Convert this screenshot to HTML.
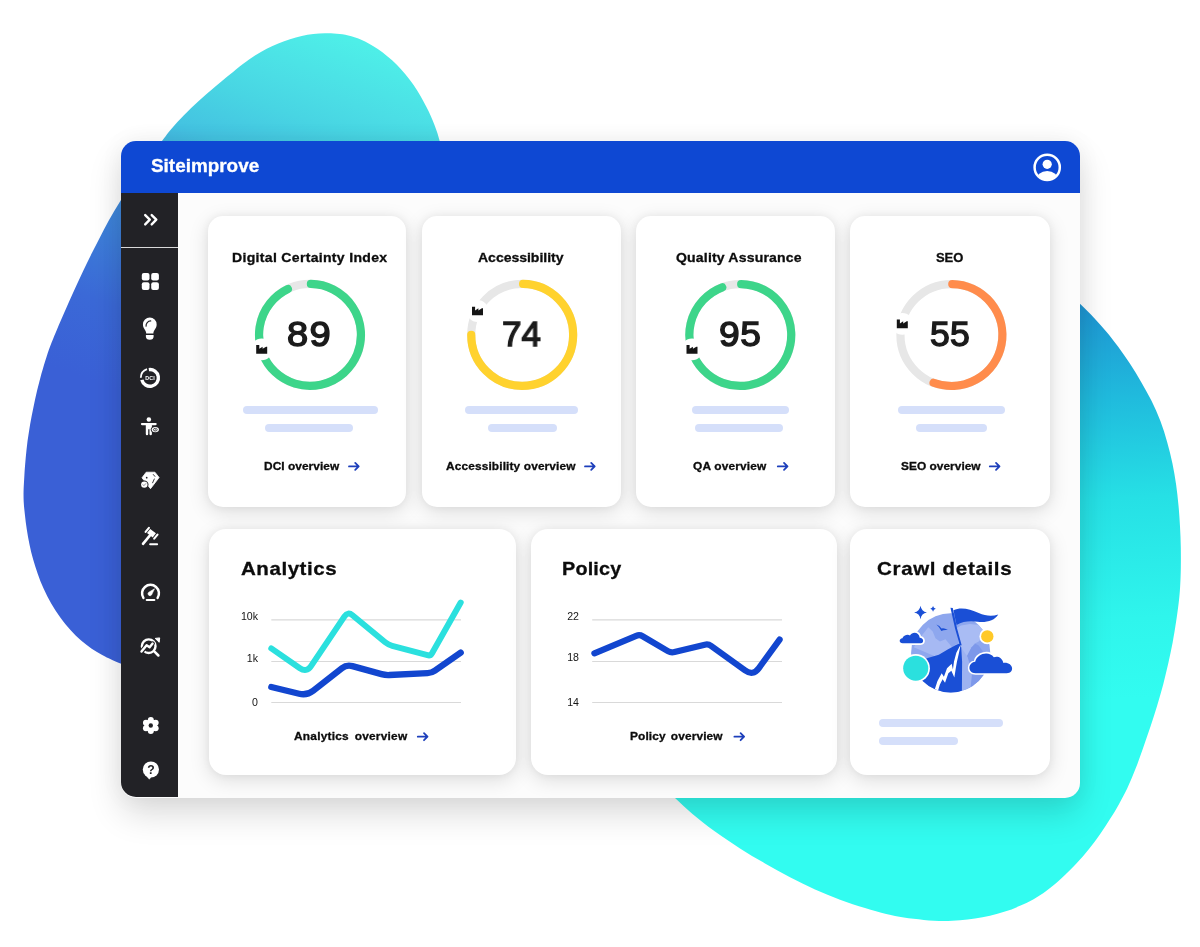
<!DOCTYPE html>
<html>
<head>
<meta charset="utf-8">
<title>Siteimprove dashboard</title>
<style>
html,body{margin:0;padding:0;}
body{width:1200px;height:947px;position:relative;overflow:hidden;background:#ffffff;font-family:"Liberation Sans",sans-serif;color:#111;}
#blobs{position:absolute;left:0;top:0;width:1200px;height:947px;}
#win{position:absolute;left:121px;top:140.5px;width:959px;height:657px;border-radius:15px;background:#fcfcfc;box-shadow:0 16px 34px rgba(0,0,0,0.14),0 0 24px rgba(0,0,0,0.05);}
#hdr{position:absolute;left:121px;top:140.5px;width:959px;height:52.8px;border-radius:15px 15px 0 0;background:#0e48d3;}
#side{position:absolute;left:121px;top:193.2px;width:56.5px;height:604.3px;border-radius:0 0 0 15px;background:#222226;}
#sep{position:absolute;left:121px;top:246.6px;width:56.5px;height:1.5px;background:#d9d9d9;}
.card{position:absolute;background:#fff;border-radius:15px;box-shadow:0 5px 20px rgba(0,0,0,0.13),0 0 8px rgba(0,0,0,0.05);}
.tx{position:absolute;will-change:transform;font-weight:bold;color:#0c0c0c;white-space:nowrap;-webkit-text-stroke:0.3px #0c0c0c;}
.w{-webkit-text-stroke:0.3px #fff;}
.nm{color:#1b1b1b;font-weight:normal;-webkit-text-stroke:1.4px #1b1b1b;}
.bar{position:absolute;height:8px;border-radius:4px;background:#d5dffa;}
.ax{position:absolute;will-change:transform;font-size:10.6px;color:#151515;white-space:nowrap;line-height:13px;text-align:right;width:40px;}
#ov{position:absolute;left:0;top:0;width:1200px;height:947px;}
</style>
</head>
<body>
<svg id="blobs" viewBox="0 0 1200 947">
  <defs>
    <linearGradient id="gL" gradientUnits="userSpaceOnUse" x1="340" y1="35" x2="200" y2="420">
      <stop offset="0" stop-color="#4eefe8"/>
      <stop offset="0.15" stop-color="#4bdde5"/>
      <stop offset="0.22" stop-color="#48d5e3"/>
      <stop offset="0.34" stop-color="#44c3e1"/>
      <stop offset="0.58" stop-color="#3e87da"/>
      <stop offset="0.81" stop-color="#3b69d7"/>
      <stop offset="1" stop-color="#3a60d6"/>
    </linearGradient>
    <linearGradient id="gR" gradientUnits="userSpaceOnUse" x1="1090" y1="300" x2="1115" y2="700">
      <stop offset="0" stop-color="#1e93d2"/>
      <stop offset="0.25" stop-color="#20bbdd"/>
      <stop offset="0.5" stop-color="#26e0e5"/>
      <stop offset="0.8" stop-color="#2ff5ec"/>
      <stop offset="1" stop-color="#32fcf0"/>
    </linearGradient>
  </defs>
  <path id="blobL" fill="url(#gL)" d="M446.0,165.0 C445.0,161.3 442.1,149.5 440.2,142.8 C438.4,136.2 437.0,131.3 434.6,125.2 C432.3,119.2 429.8,113.4 426.3,106.7 C422.8,99.9 418.6,92.0 413.6,85.0 C408.7,78.0 402.7,70.6 396.8,64.7 C390.8,58.7 383.7,53.3 377.8,49.1 C371.9,44.9 366.2,42.0 361.2,39.7 C356.3,37.5 352.4,36.5 348.3,35.5 C344.2,34.5 340.6,34.1 336.7,33.8 C332.8,33.4 328.9,33.3 325.0,33.3 C321.1,33.4 317.2,33.7 313.3,34.1 C309.4,34.6 305.6,35.2 301.7,36.0 C297.8,36.9 293.9,37.9 290.0,39.2 C286.1,40.4 282.2,41.8 278.3,43.4 C274.4,45.0 270.6,46.8 266.7,48.8 C262.8,50.8 259.0,52.9 255.0,55.5 C251.0,58.0 247.2,60.8 242.9,64.0 C238.6,67.3 234.0,71.1 229.2,75.1 C224.4,79.1 219.0,83.5 213.9,87.8 C208.8,92.2 203.7,96.5 198.7,101.0 C193.7,105.6 188.5,110.6 183.9,115.3 C179.3,120.0 175.4,124.2 171.3,129.1 C167.2,134.0 164.3,138.1 159.4,144.7 C154.5,151.2 148.0,160.2 142.1,168.7 C136.1,177.2 128.9,187.6 123.8,195.5 C118.7,203.4 115.0,209.8 111.4,216.1 C107.7,222.5 105.0,227.7 101.8,233.8 C98.6,239.8 95.5,246.0 92.3,252.3 C89.1,258.6 86.0,265.1 82.8,271.8 C79.6,278.4 76.4,285.4 73.3,292.2 C70.2,299.0 66.9,306.5 64.2,312.7 C61.5,318.8 59.1,324.4 57.0,329.4 C54.9,334.3 53.5,337.7 51.7,342.3 C49.9,346.9 48.2,351.6 46.5,356.9 C44.8,362.1 43.0,368.2 41.4,373.8 C39.9,379.4 38.5,385.0 37.1,390.6 C35.8,396.2 34.5,401.9 33.4,407.5 C32.2,413.1 31.1,418.8 30.1,424.4 C29.2,430.0 28.3,435.7 27.5,441.3 C26.8,446.9 26.2,452.5 25.7,458.1 C25.2,463.7 24.7,469.7 24.4,475.0 C24.1,480.3 23.8,485.3 23.6,489.7 C23.5,494.1 23.5,497.5 23.7,501.7 C23.9,505.9 24.4,510.1 24.9,514.8 C25.4,519.5 26.0,524.7 26.8,529.6 C27.6,534.5 28.4,539.5 29.5,544.4 C30.5,549.3 31.7,554.3 33.1,559.2 C34.5,564.1 36.0,569.0 37.8,573.9 C39.5,578.8 41.4,583.8 43.7,588.7 C45.9,593.6 48.5,598.7 51.2,603.5 C54.0,608.3 57.2,613.2 60.5,617.7 C63.7,622.1 67.2,626.4 70.7,630.2 C74.1,634.0 77.6,637.4 81.1,640.5 C84.6,643.6 88.2,646.3 91.7,648.7 C95.2,651.1 98.8,653.2 102.2,655.0 C105.7,656.9 107.8,658.0 112.2,659.9 C116.7,661.8 120.8,663.5 128.8,666.5 C136.8,669.5 154.8,676.1 160.0,678.0 L300,500 Z"/>
  <path id="blobR" fill="url(#gR)" d="M1070.0,294.0 C1071.8,295.8 1077.1,300.7 1081.0,304.7 C1085.0,308.6 1089.7,313.2 1093.9,317.7 C1098.2,322.2 1102.4,326.9 1106.4,331.7 C1110.4,336.5 1114.1,341.2 1118.0,346.5 C1121.9,351.7 1125.8,357.4 1129.7,363.3 C1133.5,369.2 1137.4,375.4 1141.0,381.7 C1144.6,388.0 1148.2,394.3 1151.5,400.8 C1154.7,407.4 1157.8,414.2 1160.4,421.1 C1163.0,428.0 1165.3,435.2 1167.2,442.2 C1169.2,449.2 1170.9,456.3 1172.4,463.3 C1173.8,470.3 1175.1,477.4 1176.1,484.4 C1177.1,491.4 1177.8,498.5 1178.5,505.5 C1179.2,512.5 1179.6,519.6 1180.0,526.6 C1180.4,533.6 1180.7,540.7 1180.8,547.7 C1180.9,554.7 1180.9,562.2 1180.8,568.8 C1180.7,575.4 1180.5,581.5 1180.1,587.1 C1179.8,592.8 1179.4,597.1 1178.7,602.8 C1178.0,608.4 1177.2,614.5 1176.2,621.1 C1175.2,627.7 1174.0,635.2 1172.7,642.2 C1171.3,649.2 1169.9,656.3 1168.3,663.3 C1166.7,670.3 1165.0,677.4 1163.2,684.4 C1161.3,691.4 1159.3,698.5 1157.2,705.5 C1155.1,712.5 1152.8,719.6 1150.5,726.6 C1148.1,733.6 1145.7,740.7 1143.2,747.8 C1140.8,754.8 1138.2,762.1 1135.5,768.8 C1132.9,775.6 1130.1,782.3 1127.3,788.2 C1124.5,794.1 1121.7,799.2 1118.8,804.4 C1116.0,809.6 1113.1,814.2 1110.0,819.1 C1106.9,824.0 1103.7,829.0 1100.2,833.9 C1096.7,838.8 1093.1,843.8 1089.2,848.7 C1085.2,853.6 1081.0,858.6 1076.4,863.5 C1071.8,868.4 1066.4,873.7 1061.5,878.3 C1056.5,882.9 1051.1,887.3 1046.5,890.8 C1041.9,894.3 1038.0,896.7 1033.6,899.2 C1029.2,901.7 1024.8,903.7 1020.0,905.8 C1015.2,907.9 1010.0,910.0 1005.0,911.6 C1000.0,913.3 995.0,914.7 990.0,915.8 C985.0,917.0 980.0,917.8 975.0,918.6 C970.0,919.3 965.2,919.9 960.0,920.2 C954.8,920.6 949.8,920.9 943.8,920.9 C937.7,920.8 930.4,920.5 923.8,919.9 C917.1,919.4 910.0,918.6 903.8,917.6 C897.5,916.6 892.7,915.6 886.2,914.1 C879.8,912.5 872.7,910.5 865.0,908.1 C857.3,905.7 848.3,902.8 840.0,899.7 C831.7,896.6 823.3,893.1 815.0,889.4 C806.7,885.6 798.3,881.5 790.0,877.2 C781.7,872.9 773.3,868.2 765.0,863.4 C756.7,858.6 748.3,853.8 740.0,848.4 C731.7,843.1 722.9,837.3 715.0,831.6 C707.1,825.8 699.2,819.5 692.5,813.9 C685.8,808.3 680.4,803.0 675.0,797.9 C669.6,792.7 662.5,785.5 660.0,783.0 L900,500 Z"/>
</svg>

<div id="win"></div>
<div id="hdr"></div>
<div id="side"></div>
<div id="sep"></div>

<!-- cards row 1 -->
<div class="card" style="left:207.5px;top:216.3px;width:198.7px;height:291px;"></div>
<div class="card" style="left:422px;top:216.3px;width:199px;height:291px;"></div>
<div class="card" style="left:635.5px;top:216.3px;width:199.3px;height:291px;"></div>
<div class="card" style="left:850px;top:216.3px;width:199.8px;height:291px;"></div>
<!-- cards row 2 -->
<div class="card" style="left:209.4px;top:529.2px;width:306.6px;height:245.4px;border-radius:17px;"></div>
<div class="card" style="left:530.8px;top:529.2px;width:306.2px;height:245.4px;border-radius:17px;"></div>
<div class="card" style="left:850px;top:529.2px;width:200.3px;height:245.4px;border-radius:17px;"></div>

<div class="bar" style="left:243.2px;top:405.8px;width:134.5px;"></div><div class="bar" style="left:265.2px;top:423.8px;width:88.1px;"></div><div class="bar" style="left:464.8px;top:405.8px;width:112.9px;"></div><div class="bar" style="left:487.9px;top:423.8px;width:68.9px;"></div><div class="bar" style="left:691.6px;top:405.8px;width:97.2px;"></div><div class="bar" style="left:695.3px;top:423.8px;width:88.0px;"></div><div class="bar" style="left:898.4px;top:405.8px;width:106.4px;"></div><div class="bar" style="left:916px;top:423.8px;width:70.8px;"></div><div class="bar" style="left:879px;top:718.7px;width:124.0px;"></div><div class="bar" style="left:879px;top:736.6px;width:79.3px;"></div>
<div class="tx w" style="left:151.30px;top:154.81px;font-size:18px;line-height:22.5px;letter-spacing:0.0px;transform:scaleX(1.05);transform-origin:0 0;color:#fff;">Siteimprove</div><div class="tx" style="left:232.00px;top:249.97px;font-size:13px;line-height:16.25px;letter-spacing:0.29px;transform:scaleX(1.08);transform-origin:0 0;">Digital Certainty Index</div><div class="tx" style="left:478.00px;top:249.97px;font-size:13px;line-height:16.25px;letter-spacing:-0.03px;transform:scaleX(1.08);transform-origin:0 0;">Accessibility</div><div class="tx" style="left:675.90px;top:249.97px;font-size:13px;line-height:16.25px;letter-spacing:0.16px;transform:scaleX(1.08);transform-origin:0 0;">Quality Assurance</div><div class="tx" style="left:936.40px;top:249.97px;font-size:13px;line-height:16.25px;letter-spacing:-0.1px;">SEO</div><div class="tx" style="left:263.50px;top:460.01px;font-size:11px;line-height:13.75px;letter-spacing:0.05px;transform:scaleX(1.08);transform-origin:0 0;">DCI overview</div><div class="tx" style="left:446.20px;top:460.01px;font-size:11px;line-height:13.75px;letter-spacing:0.12px;transform:scaleX(1.08);transform-origin:0 0;">Accessibility overview</div><div class="tx" style="left:692.90px;top:460.01px;font-size:11px;line-height:13.75px;letter-spacing:0.17px;transform:scaleX(1.08);transform-origin:0 0;">QA overview</div><div class="tx" style="left:901.20px;top:460.01px;font-size:11px;line-height:13.75px;letter-spacing:0.03px;transform:scaleX(1.08);transform-origin:0 0;">SEO overview</div><div class="tx" style="left:240.70px;top:557.14px;font-size:19px;line-height:23.75px;letter-spacing:0.5px;transform:scaleX(1.08);transform-origin:0 0;">Analytics</div><div class="tx" style="left:562.30px;top:557.14px;font-size:19px;line-height:23.75px;letter-spacing:0.2px;transform:scaleX(1.04);transform-origin:0 0;">Policy</div><div class="tx" style="left:877.00px;top:557.14px;font-size:19px;line-height:23.75px;letter-spacing:0.62px;transform:scaleX(1.08);transform-origin:0 0;">Crawl details</div><div class="tx" style="left:294.30px;top:729.61px;font-size:11px;line-height:13.75px;letter-spacing:0.22px;word-spacing:2.03px;transform:scaleX(1.08);transform-origin:0 0;">Analytics overview</div><div class="tx" style="left:629.90px;top:729.61px;font-size:11px;line-height:13.75px;letter-spacing:0.12px;word-spacing:1.48px;transform:scaleX(1.08);transform-origin:0 0;">Policy overview</div><div class="tx nm" style="left:287.20px;top:312.41px;font-size:35.6px;line-height:44.5px;letter-spacing:1.3px;transform:scaleX(1.07);transform-origin:0 0;">89</div><div class="tx nm" style="left:502.00px;top:312.21px;font-size:35.6px;line-height:44.5px;letter-spacing:0.0px;transform:scaleX(0.985);transform-origin:0 0;">74</div><div class="tx nm" style="left:718.90px;top:312.21px;font-size:35.6px;line-height:44.5px;letter-spacing:0.6px;transform:scaleX(1.045);transform-origin:0 0;">95</div><div class="tx nm" style="left:930.10px;top:312.21px;font-size:35.6px;line-height:44.5px;letter-spacing:0.3px;">55</div><div class="ax" style="left:218.00px;top:609.90px;">10k</div><div class="ax" style="left:218.00px;top:651.50px;">1k</div><div class="ax" style="left:218.00px;top:696.00px;">0</div><div class="ax" style="left:539.20px;top:609.90px;">22</div><div class="ax" style="left:539.20px;top:651.20px;">18</div><div class="ax" style="left:539.20px;top:696.00px;">14</div>
<svg id="ov" viewBox="0 0 1200 947">
<circle cx="310" cy="334.9" r="50.95" fill="none" stroke="#e7e7e7" stroke-width="8.2"/><path d="M310.89,283.96 A50.95,50.95 0 1 1 287.91,288.99" fill="none" stroke="#3dd58a" stroke-width="8.2" stroke-linecap="round"/><circle cx="261.7" cy="349.3" r="10.9" fill="#fff"/><path transform="translate(256.20,344.95)" d="M0,0 H3.1 V3.9 L6.4,1.7 V3.9 L9.9,1.7 H11 V8.7 H0 Z" fill="#151515"/><circle cx="522.2" cy="334.9" r="50.95" fill="none" stroke="#e7e7e7" stroke-width="8.2"/><path d="M523.09,283.96 A50.95,50.95 0 1 1 471.25,334.90" fill="none" stroke="#ffd22e" stroke-width="8.2" stroke-linecap="round"/><circle cx="477.5" cy="311.0" r="10.9" fill="#fff"/><path transform="translate(472.00,306.65)" d="M0,0 H3.1 V3.9 L6.4,1.7 V3.9 L9.9,1.7 H11 V8.7 H0 Z" fill="#151515"/><circle cx="740.3" cy="335" r="50.95" fill="none" stroke="#e7e7e7" stroke-width="8.2"/><path d="M741.19,284.06 A50.95,50.95 0 1 1 722.29,287.34" fill="none" stroke="#3dd58a" stroke-width="8.2" stroke-linecap="round"/><circle cx="692.0" cy="349.3" r="10.9" fill="#fff"/><path transform="translate(686.50,344.95)" d="M0,0 H3.1 V3.9 L6.4,1.7 V3.9 L9.9,1.7 H11 V8.7 H0 Z" fill="#151515"/><circle cx="951.4" cy="335" r="50.95" fill="none" stroke="#e7e7e7" stroke-width="8.2"/><path d="M952.29,284.06 A50.95,50.95 0 1 1 933.56,382.72" fill="none" stroke="#ff8c4c" stroke-width="8.2" stroke-linecap="round"/><circle cx="902.3" cy="323.9" r="10.9" fill="#fff"/><path transform="translate(896.80,319.55)" d="M0,0 H3.1 V3.9 L6.4,1.7 V3.9 L9.9,1.7 H11 V8.7 H0 Z" fill="#151515"/><path d="M349.00,466.40 H358.10 M355.20,462.90 L358.70,466.40 L355.20,469.90" fill="none" stroke="#1d3fbb" stroke-width="1.8" stroke-linecap="round" stroke-linejoin="round"/><path d="M585.00,466.40 H594.10 M591.20,462.90 L594.70,466.40 L591.20,469.90" fill="none" stroke="#1d3fbb" stroke-width="1.8" stroke-linecap="round" stroke-linejoin="round"/><path d="M777.80,466.40 H786.90 M784.00,462.90 L787.50,466.40 L784.00,469.90" fill="none" stroke="#1d3fbb" stroke-width="1.8" stroke-linecap="round" stroke-linejoin="round"/><path d="M989.80,466.40 H998.90 M996.00,462.90 L999.50,466.40 L996.00,469.90" fill="none" stroke="#1d3fbb" stroke-width="1.8" stroke-linecap="round" stroke-linejoin="round"/><path d="M417.80,736.70 H426.90 M424.00,733.20 L427.50,736.70 L424.00,740.20" fill="none" stroke="#1d3fbb" stroke-width="1.8" stroke-linecap="round" stroke-linejoin="round"/><path d="M734.40,736.70 H743.50 M740.60,733.20 L744.10,736.70 L740.60,740.20" fill="none" stroke="#1d3fbb" stroke-width="1.8" stroke-linecap="round" stroke-linejoin="round"/><line x1="271.3" x2="461.0" y1="619.8" y2="619.8" stroke="#d9d9d9" stroke-width="1.2"/><line x1="271.3" x2="461.0" y1="661.5" y2="661.5" stroke="#d9d9d9" stroke-width="1.2"/><line x1="271.3" x2="461.0" y1="702.5" y2="702.5" stroke="#d9d9d9" stroke-width="1.2"/><line x1="592.2" x2="782.0" y1="619.8" y2="619.8" stroke="#d9d9d9" stroke-width="1.2"/><line x1="592.2" x2="782.0" y1="661.5" y2="661.5" stroke="#d9d9d9" stroke-width="1.2"/><line x1="592.2" x2="782.0" y1="702.5" y2="702.5" stroke="#d9d9d9" stroke-width="1.2"/><path d="M271.3,648.4 L299.9,668.2 Q306.5,672.7 311.0,666.1 L344.5,616.4 Q347.9,611.4 352.5,615.2 L385.2,642.3 Q388.3,644.8 392.2,645.8 L427.5,655.2 Q430.4,656.0 431.9,653.4 L460.7,602.6" fill="none" stroke="#2be0de" stroke-width="6.0" stroke-linecap="round" stroke-linejoin="round"/><path d="M271.3,687.0 L299.1,693.7 Q306.9,695.6 313.2,690.7 L341.9,668.2 Q346.6,664.5 352.4,666.1 L381.5,674.1 Q385.4,675.2 389.4,675.0 L427.6,673.1 Q431.6,672.9 434.9,670.6 L460.7,652.6" fill="none" stroke="#1246cf" stroke-width="6.3" stroke-linecap="round" stroke-linejoin="round"/><path d="M594.4,653.4 L636.2,635.8 Q639.5,634.4 642.6,636.2 L667.9,651.2 Q671.0,653.0 674.5,652.1 L704.8,644.7 Q708.3,643.8 711.2,645.9 L744.9,670.3 Q753.0,676.2 758.9,668.1 L779.6,639.6" fill="none" stroke="#1246cf" stroke-width="6.2" stroke-linecap="round" stroke-linejoin="round"/>
<!-- avatar -->
<g>
  <clipPath id="avc"><circle cx="1047.2" cy="167.4" r="12.2"/></clipPath>
  <circle cx="1047.2" cy="167.4" r="12.6" fill="none" stroke="#fff" stroke-width="2.5"/>
  <circle cx="1047.2" cy="164.3" r="4.6" fill="#fff"/>
  <ellipse cx="1047.2" cy="180.2" rx="11.2" ry="9.2" fill="#fff" clip-path="url(#avc)"/>
</g>
<!-- chevrons -->
<path d="M145.2,215.1 L149.8,219.7 L145.2,224.4 M151.7,215.1 L156.3,219.7 L151.7,224.4" fill="none" stroke="#fff" stroke-width="2.4" stroke-linecap="round" stroke-linejoin="round"/>
<!-- grid -->
<g fill="#fff">
  <rect x="141.8" y="272.9" width="7.7" height="7.7" rx="2"/>
  <rect x="151.2" y="272.9" width="7.7" height="7.7" rx="2"/>
  <rect x="141.8" y="282.3" width="7.7" height="7.7" rx="2"/>
  <rect x="151.2" y="282.3" width="7.7" height="7.7" rx="2"/>
</g>
<!-- bulb -->
<g>
  <path d="M146.2,333.4 C146.2,330.3 142.95,328.6 142.95,324.45 A6.85,6.85 0 1 1 156.65,324.45 C156.65,328.6 153.4,330.3 153.4,333.4 Z" fill="#fff"/>
  <path d="M145.9,334.9 H153.6 V336.3 A3.85,3.5 0 0 1 145.9,336.3 Z" fill="#fff"/>
  <path d="M146.1,326.2 A4.7,4.7 0 0 1 150.7,320.9" fill="none" stroke="#222226" stroke-width="1.2" stroke-linecap="round"/>
</g>
<!-- DCI ring -->
<g>
  <path d="M148.83,369.58 A8.4,8.4 0 1 1 141.85,379.93" fill="none" stroke="#fff" stroke-width="3.4"/>
  <path d="M140.8,377.7 A9.2,9.2 0 0 1 147.0,369.2" fill="none" stroke="#fff" stroke-width="1.8"/>
  <text x="150" y="379.8" font-family="Liberation Sans, sans-serif" font-weight="bold" font-size="5.3" fill="#fff" text-anchor="middle" letter-spacing="0.1">DCI</text>
</g>
<!-- accessibility person -->
<g>
  <circle cx="148.85" cy="419.5" r="2.25" fill="#fff"/>
  <path d="M142,424.1 H155.6" stroke="#fff" stroke-width="2.3" stroke-linecap="round" fill="none"/>
  <path d="M145.8,424.1 H151.9 V434 A1.2,1.2 0 0 1 149.5,434 V429.3 H148.2 V434 A1.2,1.2 0 0 1 145.8,434 Z" fill="#fff"/>
  <ellipse cx="155.3" cy="429.6" rx="4.6" ry="3.6" fill="#222226"/>
  <ellipse cx="155.3" cy="429.6" rx="3.6" ry="2.6" fill="#fff"/>
  <ellipse cx="155.3" cy="429.7" rx="1.9" ry="1.3" fill="none" stroke="#222226" stroke-width="0.8"/>
  <circle cx="155.3" cy="429.8" r="0.5" fill="#222226"/>
</g>
<!-- diamond -->
<g>
  <path d="M146.2,472.2 H154.9 L159.1,477.5 L150.5,488.7 L142,477.8 Z" fill="#fff" stroke="#fff" stroke-width="0.8" stroke-linejoin="round"/>
  <circle cx="146.7" cy="477.7" r="0.85" fill="#222226"/>
  <path d="M153.3,474.5 L154.9,476.4 M154.3,479 L152.6,482.8" stroke="#222226" stroke-width="0.9" fill="none" stroke-linecap="round"/>
  <circle cx="144.3" cy="484.6" r="4.2" fill="#222226"/>
  <circle cx="144.3" cy="484.6" r="3.2" fill="#fff"/>
  <path d="M142.9,484.6 L143.9,485.7 L145.8,483.6" fill="none" stroke="#8a8a8e" stroke-width="0.9" stroke-linecap="round" stroke-linejoin="round"/>
</g>
<!-- gavel -->
<g stroke="#fff" fill="none" stroke-linecap="round">
  <path d="M143,543.8 L149.8,535.6" stroke-width="2.6"/>
  <path d="M148.6,531.0 L154.3,535.4" stroke-width="5.3" stroke-linecap="butt"/>
  <path d="M145.6,531.9 L148.9,527.9" stroke-width="2.1"/>
  <path d="M154.2,538.6 L157.5,534.6" stroke-width="2.1"/>
  <path d="M150.1,544.3 L157.1,544.3" stroke-width="2"/>
</g>
<!-- speedometer -->
<g>
  <path d="M143.4,597.9 A8.45,8.45 0 1 1 157.6,597.9" fill="none" stroke="#fff" stroke-width="2.5" stroke-linecap="round"/>
  <path d="M148.5,592.4 L154.5,588.8 L151.5,595 A1.9,1.9 0 0 1 148.5,592.4 Z" fill="#fff" stroke="#fff" stroke-width="0.6" stroke-linejoin="round"/>
  <path d="M146.7,600 H154.4" stroke="#fff" stroke-width="2" stroke-linecap="round"/>
</g>
<!-- magnifier -->
<g>
  <circle cx="148.7" cy="646.2" r="6.8" fill="none" stroke="#fff" stroke-width="2.4"/>
  <path d="M154.5,651.6 L158.4,655.5" stroke="#fff" stroke-width="2.5" stroke-linecap="round"/>
  <path d="M141.5,651.6 L146.6,645.2 L149.6,647.3 L152.6,643.6" fill="none" stroke="#222226" stroke-width="4.6" stroke-linecap="round" stroke-linejoin="round"/>
  <path d="M141.5,651.6 L146.6,645.2 L149.6,647.3 L152.6,643.6" fill="none" stroke="#fff" stroke-width="2.4" stroke-linecap="round" stroke-linejoin="round"/>
  <path d="M155.2,638.4 L159.7,637.9 L159.2,642.3 Z" fill="#fff" stroke="#fff" stroke-width="1" stroke-linejoin="round"/>
</g>
<!-- gear -->
<g fill="#fff">
  <circle cx="150.8" cy="725.5" r="6.3"/>
  <circle cx="150.8" cy="719.9" r="3"/>
  <circle cx="155.65" cy="722.7" r="3"/>
  <circle cx="155.65" cy="728.3" r="3"/>
  <circle cx="150.8" cy="731.1" r="3"/>
  <circle cx="145.95" cy="728.3" r="3"/>
  <circle cx="145.95" cy="722.7" r="3"/>
  <circle cx="150.8" cy="725.5" r="2.2" fill="#222226"/>
</g>
<!-- help -->
<g>
  <circle cx="150.9" cy="769.5" r="8.1" fill="#fff"/>
  <path d="M145.6,775 L149.4,779.2 L151.5,776 Z" fill="#fff" stroke="#fff" stroke-width="0.6" stroke-linejoin="round"/>
  <text x="150.9" y="773.9" font-family="Liberation Sans, sans-serif" font-weight="bold" font-size="12.2" fill="#222226" text-anchor="middle">?</text>
</g>
<!-- crawl illustration: coords are 9.015x zoom of page region (890,595) -->
<g transform="translate(890,595) scale(0.11093)">
  <clipPath id="gc"><circle cx="547" cy="522" r="357"/></clipPath>
  <!-- stars -->
  <path d="M275,98 Q283,150 333,158 Q283,166 275,218 Q267,166 217,158 Q267,150 275,98 Z" fill="#1a4fd6"/>
  <path d="M388,100 Q392,121 413,125 Q392,129 388,150 Q384,129 363,125 Q384,121 388,100 Z" fill="#1a4fd6"/>
  <!-- globe -->
  <circle cx="547" cy="522" r="357" fill="#8ea7ee"/>
  <g clip-path="url(#gc)">
    <path d="M215,470 L270,385 L310,335 L345,290 L385,330 L410,390 L450,420 L500,400 L560,470 L600,440 L600,560 L420,560 L330,520 Z" fill="#a6b9f3"/>
    <path d="M600,300 L640,275 L720,262 L800,270 L835,300 L850,360 L800,420 L760,440 L720,500 L690,560 L640,600 Z" fill="#a9bcf4"/>
    <path d="M690,560 L735,470 L770,440 L800,455 L860,540 L930,640 L930,900 L700,900 Z" fill="#7d98ea"/>
    <path d="M640,470 L700,560 L740,700 L720,900 L640,900 Z" fill="#9db2f1"/>
    <!-- dark mountain -->
    <path d="M250,600 L340,568 L440,538 L520,492 L590,452 L628,438 L642,470 L650,600 L648,900 L250,900 Z" fill="#1a4fd6"/>
    <!-- snow -->
    <path d="M638,444 L619,535 L604,600 L595,650 L580,744 L553,682 L526,706 L496,790 L474,760 L449,810 L431,870 L400,862 L428,776 L466,706 L486,738 L514,660 L556,620 L567,672 L577,600 L598,520 Z" fill="#ffffff"/>
  </g>
  <!-- bird -->
  <path d="M418,266 Q448,274 464,303 Q484,292 522,316 Q486,311 463,324 Q449,291 418,266 Z" fill="#1a4fd6"/>
  <!-- pole + flag -->
  <path d="M545,114 L566,118 L604,300 L646,452 L630,456 L586,300 Z" fill="#1a4fd6"/>
  <path d="M572,138 C640,104 720,128 800,163 C862,190 920,196 976,176 C944,232 862,252 790,241 C720,231 660,236 600,270 Z" fill="#1a4fd6"/>
  <!-- left cloud -->
  <g id="cl1">
    <path d="M114,435 C80,435 78,396 112,391 C120,362 160,352 180,364 C204,326 262,336 268,385 C306,386 310,435 276,435 Z" fill="#1a4fd6" stroke="#ffffff" stroke-width="30" stroke-linejoin="round"/>
    <path d="M114,435 C80,435 78,396 112,391 C120,362 160,352 180,364 C204,326 262,336 268,385 C306,386 310,435 276,435 Z" fill="#1a4fd6"/>
  </g>
  <!-- cyan circle -->
  <circle cx="232" cy="660" r="128" fill="#ffffff"/>
  <circle cx="232" cy="660" r="113" fill="#2be0de"/>
  <!-- yellow circle -->
  <circle cx="877" cy="373" r="71" fill="#ffffff"/>
  <circle cx="877" cy="373" r="56" fill="#ffc928"/>
  <!-- right cloud -->
  <g id="cl2">
    <path d="M770,705 C700,705 698,612 768,602 C784,528 892,500 936,562 C962,546 1012,560 1022,612 C1112,602 1130,705 1052,705 Z" fill="#1a4fd6" stroke="#ffffff" stroke-width="30" stroke-linejoin="round"/>
    <path d="M770,705 C700,705 698,612 768,602 C784,528 892,500 936,562 C962,546 1012,560 1022,612 C1112,602 1130,705 1052,705 Z" fill="#1a4fd6"/>
  </g>
</g>

</svg>

</body>
</html>
